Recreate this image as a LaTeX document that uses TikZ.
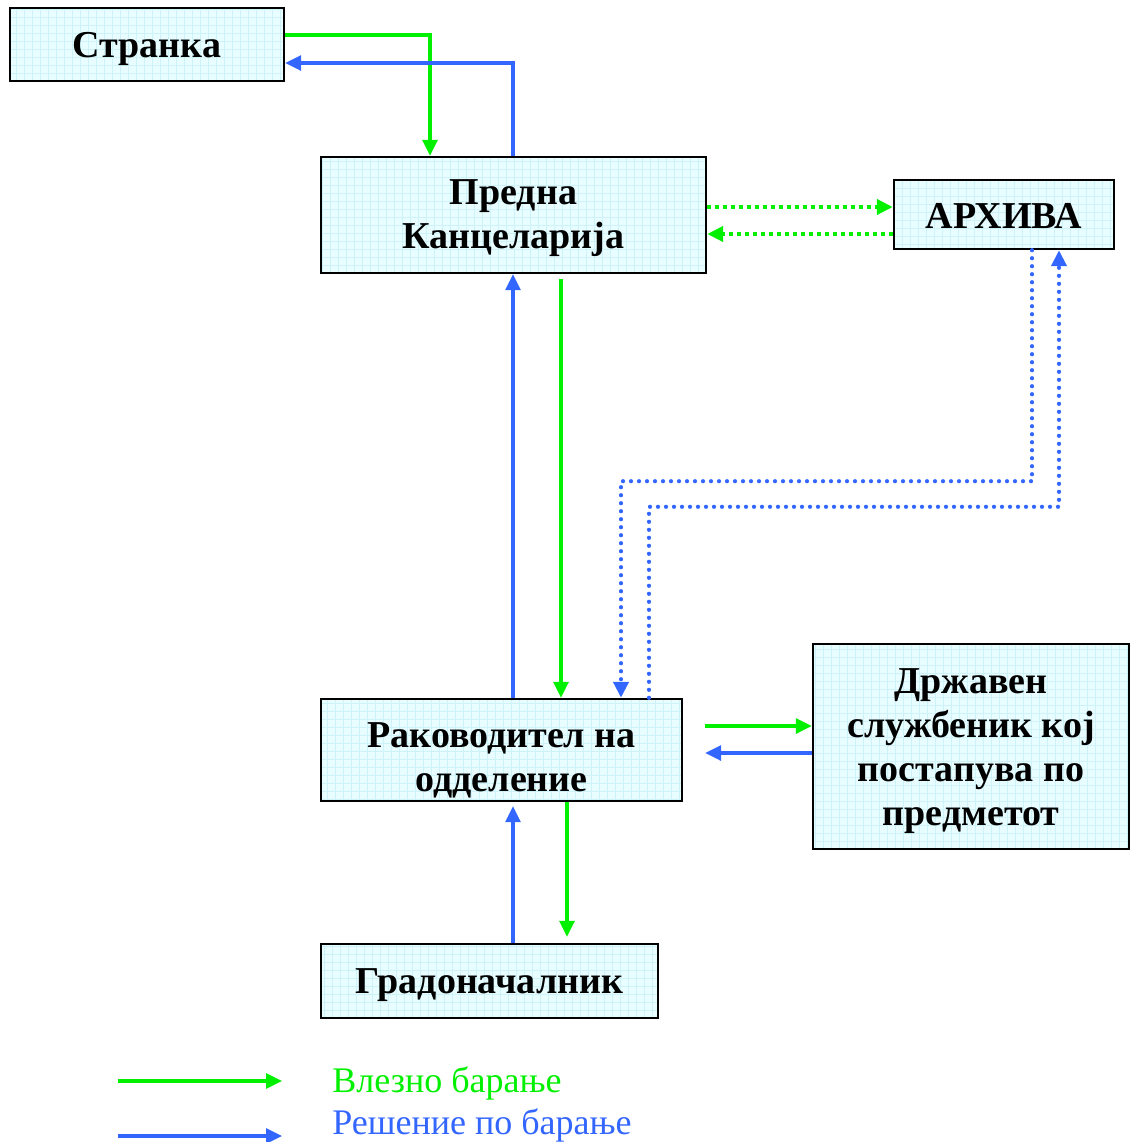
\documentclass[tikz,border=0pt]{standalone}
\usepackage{fontspec}
\setmainfont{Liberation Serif}
\usetikzlibrary{arrows.meta}
\definecolor{boxfill}{RGB}{232,253,255}
\definecolor{gridc}{RGB}{205,243,248}
\definecolor{ggreen}{RGB}{0,240,0}
\definecolor{bblue}{RGB}{51,102,255}
\newcommand{\lowr}[1]{\rule{0pt}{#1}}
\tikzset{
  box/.style={draw=black, line width=1.2pt, fill=boxfill, align=center,
    inner sep=0pt, font=\fontsize{19}{22}\selectfont\bfseries,
    path picture={\draw[gridc, line width=0.3pt, step=4pt]
      (path picture bounding box.south west) grid (path picture bounding box.north east);}},
  tipA/.style={-{Triangle[length=8pt,width=7.5pt]}},
  gline/.style={ggreen, line width=1.6pt, tipA},
  bline/.style={bblue, line width=1.6pt, tipA},
  gdot/.style={ggreen, line width=2pt, dash pattern=on 2pt off 2pt, tipA},
  bdot/.style={bblue, line width=2.1pt, line cap=round, dash pattern=on 0pt off 4pt, tipA},
  legtext/.style={anchor=west, inner sep=0pt, font=\fontsize{18}{22}\selectfont}
}
\begin{document}
\begin{tikzpicture}[x=0.5pt,y=-0.5pt]
\useasboundingbox (0,0) rectangle (1130,1142);
\node[box, minimum width=137pt, minimum height=36.5pt] (str) at (147,44.5) {\lowr{17pt}Странка};
\node[box, minimum width=192.5pt, minimum height=58pt] (pk) at (513.5,215) {\lowr{16pt}Предна\\Канцеларија};
\node[box, minimum width=110pt, minimum height=34.5pt] (arch) at (1004,214.5) {\lowr{14pt}АРХИВА};
\node[box, minimum width=180.5pt, minimum height=51pt] (rk) at (501.5,750) {\lowr{23pt}Раководител на\\одделение};
\node[box, minimum width=158pt, minimum height=102.5pt] (dr) at (971,746.5) {\lowr{17pt}Државен\\службеник кој\\постапува по\\предметот};
\node[box, minimum width=168.5pt, minimum height=37pt] (gr) at (489.5,981) {\lowr{17pt}Градоначалник};

% Stranka <-> Predna
\draw[gline] ([yshift=4.75pt]str.east) -| ([xshift=-41.75pt]pk.north);
\draw[bline] ([xshift=-0.25pt]pk.north) |- ([yshift=-9.25pt]str.east);
% Predna <-> Arhiva
\draw[gdot] ([yshift=4pt]pk.east) -- ([yshift=3.75pt]arch.west);
\draw[gdot] ([yshift=-9.75pt]arch.west) -- ([yshift=-9.5pt]pk.east);
% Arhiva <-> Rakovoditel
\draw[bdot] ([xshift=14pt]arch.south) -- ++(0,231) -| ([xshift=59.75pt]rk.north);
\draw[bdot] ([xshift=73.75pt]rk.north) -- ++(0,-191) -| ([xshift=27.5pt]arch.south);
% Predna <-> Rakovoditel
\draw[bline] ([xshift=5.75pt]rk.north) -- ([xshift=-0.25pt]pk.south);
\draw[gline] ([xshift=23.75pt,yshift=-2.5pt]pk.south) -- ([xshift=29.75pt]rk.north);
% Rakovoditel <-> Drzhaven
\draw[gline] ([xshift=11pt,yshift=12pt]rk.east) -- ([yshift=10.25pt]dr.west);
\draw[bline] ([yshift=-3.25pt]dr.west) -- ([xshift=11pt,yshift=-1.5pt]rk.east);
% Rakovoditel <-> Gradonachalnik
\draw[bline] ([xshift=11.75pt]gr.north) -- ([xshift=5.75pt,yshift=-2pt]rk.south);
\draw[gline] ([xshift=32.75pt]rk.south) -- ([xshift=38.75pt,yshift=3pt]gr.north);

% Legend
\coordinate (l1a) at (118,1081);
\coordinate (l1b) at (282,1081);
\coordinate (l2a) at (118,1136);
\coordinate (l2b) at (282,1136);
\draw[gline] (l1a) -- (l1b);
\draw[bline] (l2a) -- (l2b);
\node[legtext, text=ggreen] (lt1) at (332,1083) {Влезно барање};
\node[legtext, text=bblue] (lt2) at (332,1125) {Решение по барање};
\end{tikzpicture}
\end{document}
